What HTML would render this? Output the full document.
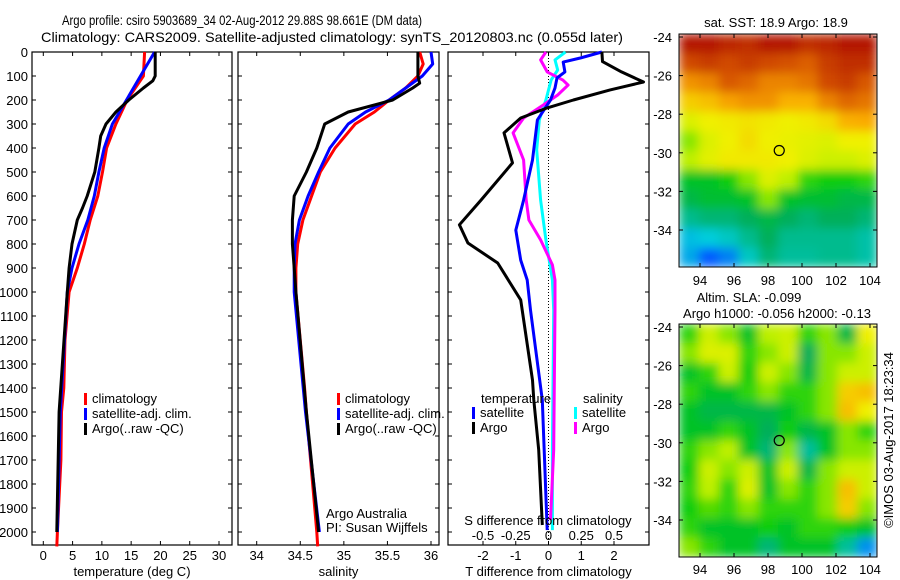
<!DOCTYPE html>
<html><head><meta charset="utf-8">
<style>
html,body{margin:0;padding:0;background:#fff;}
svg{display:block;font-family:"Liberation Sans",sans-serif;}
text{fill:#000;font-size:13px;}
</style></head>
<body>
<svg id="chart" width="900" height="580" viewBox="0 0 900 580" xmlns="http://www.w3.org/2000/svg">
<defs>
<filter id="blur1" x="0" y="0" width="1" height="1"><feGaussianBlur stdDeviation="5" edgeMode="duplicate"/></filter>
<clipPath id="clipMap1"><rect x="679" y="34" width="198" height="233"/></clipPath>
<clipPath id="clipMap2"><rect x="679" y="324" width="198" height="233"/></clipPath>
</defs>
<text x="62" y="25" textLength="360" lengthAdjust="spacingAndGlyphs" style="font-size:14px">Argo profile: csiro 5903689_34 02-Aug-2012 29.88S 98.661E (DM data)</text>
<text x="41" y="42" textLength="582" lengthAdjust="spacingAndGlyphs" style="font-size:14px">Climatology: CARS2009. Satellite-adjusted climatology: synTS_20120803.nc (0.055d later)</text>
<g id="g1"></g>
<g id="g2"></g>
<g id="g3"></g>
<g id="m1"></g>
<g id="m2"></g>
<text x="0" y="0" transform="translate(893,440) rotate(-90)" text-anchor="middle" style="font-size:13px">©IMOS 03-Aug-2017 18:23:34</text>
</svg>
<script>
// ---- data ----
const tClimDepth = [0,100,200,300,400,500,600,700,800,900,1000,1200,1400,1500,1700,2000,2060];
const tClim = [17.3,17.1,14.3,12.4,10.8,10.1,9.3,8.0,7.0,5.8,4.4,3.7,3.5,3.1,3.0,2.4,2.3];
const tSatDepth = [0,100,200,300,400,500,600,700,800,900,1000,1500,2000];
const tSat = [19.0,16.6,14.2,11.8,10.4,9.5,8.7,7.6,6.1,4.9,4.1,2.9,2.4];
const tArgoDepth = [0,100,120,150,200,250,300,350,400,500,600,650,700,800,900,1000,1500,2000];
const tArgo = [19.1,19.1,18.7,17.1,14.6,12.4,10.7,9.8,9.5,8.8,7.5,6.7,5.8,4.9,4.4,4.1,2.7,2.3];
const sClimDepth = [0,50,100,150,200,250,300,400,500,600,700,800,900,1000,1400,1500,2000,2060];
const sClim = [35.87,35.91,35.85,35.71,35.52,35.35,35.13,34.90,34.73,34.63,34.53,34.47,34.45,34.45,34.55,34.57,34.69,34.70];
const sSatDepth = [0,50,100,150,200,250,300,400,500,600,700,800,900,1000,1500,2000];
const sSat = [36.0,36.02,35.9,35.71,35.52,35.25,35.05,34.84,34.71,34.59,34.49,34.44,34.43,34.43,34.56,34.72];
const sArgoDepth = [0,100,130,150,200,250,300,400,500,600,700,800,900,1000,1500,2000];
const sArgo = [35.85,35.85,35.87,35.79,35.56,35.05,34.78,34.69,34.57,34.43,34.41,34.41,34.43,34.45,34.57,34.71];
const dTDepth = [0,40,83,125,158,200,233,275,337,462,617,720,796,879,1033,1367,1450,1658,1971];
const dTArgo = [1.63,1.65,2.23,2.9,1.88,0.76,-0.04,-0.85,-1.36,-1.1,-2.06,-2.72,-2.46,-1.55,-0.85,-0.49,-0.45,-0.3,-0.19];
const dTSatDepth = [0,25,42,83,108,150,200,283,450,617,742,867,950,1075,1450,1992];
const dTSat = [1.63,0.97,0.45,0.5,0.26,0.2,0.06,-0.34,-0.49,-0.76,-1.0,-0.85,-0.65,-0.55,-0.19,-0.04];
const dSDepth = [0,33,83,117,138,179,221,275,337,450,617,700,783,887,950,1075,1658,1950];
const dSArgo = [-0.02,-0.06,-0.01,0.11,0.15,0.07,-0.04,-0.19,-0.27,-0.19,-0.17,-0.15,-0.06,0.03,0.05,0.05,0.04,0.015];
const dSSatDepth = [0,33,75,117,200,283,408,617,783,950,1075,1658,1992];
const dSSat = [0.13,0.05,0.07,0.02,-0.02,-0.07,-0.09,-0.06,-0.02,0.03,0.04,0.03,0.03];
const depthTicks = [0,100,200,300,400,500,600,700,800,900,1000,1100,1200,1300,1400,1500,1600,1700,1800,1900,2000];
const tTicks = [0,5,10,15,20,25,30];
const sTicks = [34,34.5,35,35.5,36];
const sTickLabels = ['34','34.5','35','35.5','36'];
const dTTicks = [-2,-1,0,1,2];
const dSTicks = [-0.5,-0.25,0,0.25,0.5];
const dSTickLabels = ['-0.5','-0.25','0','0.25','0.5'];
const latTicks = [-24,-26,-28,-30,-32,-34];
const lonTicks = [94,96,98,100,102,104];
const argoLon = 98.661, argoLat = -29.88;
const sstGrid = [
[.95,.95,.93,.92,.95,.95,.92,.93,.95,.95],
[.88,.9,.88,.9,.88,.87,.85,.9,.92,.92],
[.78,.8,.86,.84,.8,.8,.82,.88,.9,.86],
[.7,.72,.76,.78,.78,.74,.74,.8,.84,.82],
[.62,.65,.66,.67,.66,.65,.66,.68,.74,.75],
[.55,.62,.65,.68,.65,.64,.63,.62,.65,.65],
[.58,.63,.66,.66,.66,.65,.62,.6,.6,.62],
[.45,.45,.48,.55,.62,.58,.5,.48,.48,.5],
[.42,.44,.44,.45,.55,.45,.44,.44,.42,.42],
[.36,.38,.38,.4,.42,.4,.38,.4,.4,.38],
[.28,.3,.32,.36,.4,.36,.36,.36,.36,.34],
[.25,.15,.2,.32,.38,.35,.35,.36,.36,.34]];
const slaGrid = [
[.5,.6,.55,.45,.58,.6,.5,.55,.42,.65],
[.55,.62,.62,.5,.55,.6,.4,.55,.55,.6],
[.45,.5,.6,.48,.6,.55,.42,.55,.6,.6],
[.5,.45,.45,.5,.55,.5,.5,.55,.7,.72],
[.45,.42,.42,.42,.42,.45,.5,.55,.72,.65],
[.45,.45,.5,.45,.4,.48,.42,.45,.55,.5],
[.5,.55,.58,.45,.38,.55,.35,.45,.55,.55],
[.48,.6,.55,.6,.45,.6,.42,.55,.6,.6],
[.5,.58,.5,.62,.45,.55,.5,.55,.72,.6],
[.48,.52,.5,.55,.5,.5,.5,.55,.7,.55],
[.5,.45,.45,.45,.48,.45,.5,.5,.48,.45],
[.55,.5,.45,.45,.38,.45,.45,.45,.35,.22]];

// ---- helpers ----
const NS='http://www.w3.org/2000/svg';
function mk(parent, tag, attrs, name, inter){
  const el=document.createElementNS(NS,tag);
  for(const k in attrs) el.setAttribute(k,attrs[k]);
  
  
  parent.appendChild(el); return el;
}
function txt(parent,x,y,s,anchor,name,size){
  const t=mk(parent,'text',{x:x,y:y,'text-anchor':anchor||'start',style:'font-size:'+(size||13)+'px'},name,false);
  t.textContent=s; return t;
}
const TOP=52, BOT=545;
const yD = d => TOP + d*0.24;
function lin(d0,d1,p0,p1){return v=>p0+(v-d0)*(p1-p0)/(d1-d0);}

function panel(g,x0,x1,xs,ticks,labels,title,name){
  mk(g,'rect',{x:x0,y:TOP,width:x1-x0,height:BOT-TOP,fill:'none',stroke:'#000','stroke-width':1.2},name+'-frame',false);
  ticks.forEach((v,i)=>{
    const x=xs(v);
    mk(g,'line',{x1:x,x2:x,y1:BOT,y2:BOT-4,stroke:'#000'},name+'-x-tick',false);
    mk(g,'line',{x1:x,x2:x,y1:TOP,y2:TOP+4,stroke:'#000'},name+'-x-tick-top',false);
    if(labels) txt(g,x,560,labels[i],'middle',name+'-x-tick-label');
  });
  depthTicks.forEach(d=>{
    const y=yD(d);
    mk(g,'line',{x1:x0,x2:x0+4,y1:y,y2:y,stroke:'#000'},name+'-y-tick',false);
    mk(g,'line',{x1:x1,x2:x1-4,y1:y,y2:y,stroke:'#000'},name+'-y-tick-right',false);
  });
  if(title) txt(g,(x0+x1)/2,576,title,'middle',name+'-x-axis-title');
}
function line(g,xs,vals,depths,color,name,w){
  const pts=vals.map((v,i)=>xs(v).toFixed(1)+','+yD(depths[i]).toFixed(1)).join(' ');
  mk(g,'polyline',{points:pts,fill:'none',stroke:color,'stroke-width':w||3,'stroke-linejoin':'round'},name,false);
}
function legend(g,x,y,items,name){
  items.forEach((it,i)=>{
    mk(g,'rect',{x:x,y:y+i*15-10,width:3,height:12,fill:it[1]},name+'-marker',false);
    txt(g,x+8,y+i*15,it[0],'start',name+'-entry');
  });
}

// ---- panel 1: temperature ----
const g1=document.getElementById('g1');
const xT=lin(0,30,43.3,219);
panel(g1,32,232,xT,tTicks,tTicks.map(String),'temperature (deg C)','temperature');
depthTicks.forEach(d=>txt(g1,28,yD(d)+5,String(d),'end','depth-tick-label'));
line(g1,xT,tClim,tClimDepth,'#f00','temp-climatology-line');
line(g1,xT,tSat,tSatDepth,'#00f','temp-satellite-line');
line(g1,xT,tArgo,tArgoDepth,'#000','temp-argo-line');
legend(g1,84,403,[['climatology','#f00'],['satellite-adj. clim.','#00f'],['Argo(..raw -QC)','#000']],'temp-legend');

// ---- panel 2: salinity ----
const g2=document.getElementById('g2');
const xS=lin(34,36,256.7,431);
panel(g2,238,439,xS,sTicks,sTickLabels,'salinity','salinity');
line(g2,xS,sClim,sClimDepth,'#f00','sal-climatology-line');
line(g2,xS,sSat,sSatDepth,'#00f','sal-satellite-line');
line(g2,xS,sArgo,sArgoDepth,'#000','sal-argo-line');
legend(g2,337,403,[['climatology','#f00'],['satellite-adj. clim.','#00f'],['Argo(..raw -QC)','#000']],'sal-legend');
txt(g2,326,518,'Argo Australia','start','argo-australia-note');
txt(g2,326,532,'PI: Susan Wijffels','start','pi-note');

// ---- panel 3: differences ----
const g3=document.getElementById('g3');
const xDT=lin(-2,2,483,614);
const xDS=v=>xDT(v*4);
panel(g3,448,649,xDT,dTTicks,dTTicks.map(String),'T difference from climatology','difference');
mk(g3,'line',{x1:xDT(0),x2:xDT(0),y1:TOP,y2:BOT,stroke:'#000','stroke-dasharray':'1,2'},'zero-line',false);
line(g3,xDS,dSSat,dSSatDepth,'#0ff','sal-diff-satellite-line');
line(g3,xDS,dSArgo,dSDepth,'#f0f','sal-diff-argo-line');
line(g3,xDT,dTSat,dTSatDepth,'#00f','temp-diff-satellite-line');
line(g3,xDT,dTArgo,dTDepth,'#000','temp-diff-argo-line');
txt(g3,481,403,'temperature','start','diff-legend-temp-header');
legend(g3,472,417,[['satellite','#00f'],['Argo','#000']],'diff-legend-temp');
txt(g3,583,403,'salinity','start','diff-legend-sal-header');
legend(g3,574,417,[['satellite','#0ff'],['Argo','#f0f']],'diff-legend-sal');
txt(g3,548,525,'S difference from climatology','middle','s-axis-title');
dSTicks.forEach((v,i)=>txt(g3,xDS(v),540,dSTickLabels[i],'middle','s-tick-label'));

// ---- maps ----
const cmapStops=[[0,[0,0,160]],[0.15,[0,90,255]],[0.3,[0,205,220]],[0.4,[0,175,90]],[0.48,[10,205,10]],[0.58,[190,240,0]],[0.65,[240,240,0]],[0.75,[250,170,0]],[0.85,[220,95,0]],[0.95,[180,25,0]],[1,[150,0,0]]];
function cmap(v){
  v=Math.max(0,Math.min(1,v));
  for(let i=1;i<cmapStops.length;i++){
    const a=cmapStops[i-1],b=cmapStops[i];
    if(v<=b[0]){const t=(v-a[0])/(b[0]-a[0]);
      return 'rgb('+a[1].map((c,k)=>Math.round(c+(b[1][k]-c)*t)).join(',')+')';}
  }
  return 'rgb(150,0,0)';
}
function map(g,y0,grid,clip,titles,name,lonLabY){
  const x0=679,x1=877,y1=y0+233;
  const xL=lin(94,104,700,870);
  const yL=lin(-24,-34,y0+3,y0+196);
  const cells=mk(g,'g',{'clip-path':'url(#'+clip+')'},name+'-cells',false);
  const inner=mk(cells,'g',{filter:'url(#blur1)'},name+'-cells-blurred',false);
  const rows=grid.length, cols=grid[0].length;
  const cw=(x1-x0)/cols, ch=(y1-y0)/rows;
  grid.forEach((row,r)=>row.forEach((v,c)=>{
    mk(inner,'rect',{x:x0+c*cw,y:y0+r*ch,width:cw+0.5,height:ch+0.5,fill:cmap(v)},name+'-cell',false);
  }));
  mk(g,'rect',{x:x0,y:y0,width:x1-x0,height:y1-y0,fill:'none',stroke:'#000'},name+'-frame',false);
  latTicks.forEach(l=>{
    const y=yL(l);
    mk(g,'line',{x1:x0,x2:x0+4,y1:y,y2:y,stroke:'#000'},name+'-lat-tick',false);
    mk(g,'line',{x1:x1,x2:x1-4,y1:y,y2:y,stroke:'#000'},name+'-lat-tick-right',false);
    txt(g,672,y+5,String(l),'end',name+'-lat-label');
  });
  lonTicks.forEach(l=>{
    const x=xL(l);
    mk(g,'line',{x1:x,x2:x,y1:y1,y2:y1-4,stroke:'#000'},name+'-lon-tick',false);
    mk(g,'line',{x1:x,x2:x,y1:y0,y2:y0+4,stroke:'#000'},name+'-lon-tick-top',false);
    txt(g,x,lonLabY,String(l),'middle',name+'-lon-label');
  });
  mk(g,'circle',{cx:xL(argoLon),cy:yL(argoLat),r:5,fill:'none',stroke:'#000','stroke-width':1.2},name+'-argo-position',false);
  titles.forEach((t,i)=>txt(g,t[1],t[2],t[0],'middle',name+'-title'));
}
map(document.getElementById('m1'),34,sstGrid,'clipMap1',[['sat. SST: 18.9 Argo: 18.9',776,27]],'sst-map',285);
map(document.getElementById('m2'),324,slaGrid,'clipMap2',[['Altim. SLA: -0.099',749,302],['Argo h1000: -0.056 h2000: -0.13',777,318]],'sla-map',574);
</script>
</body></html>
